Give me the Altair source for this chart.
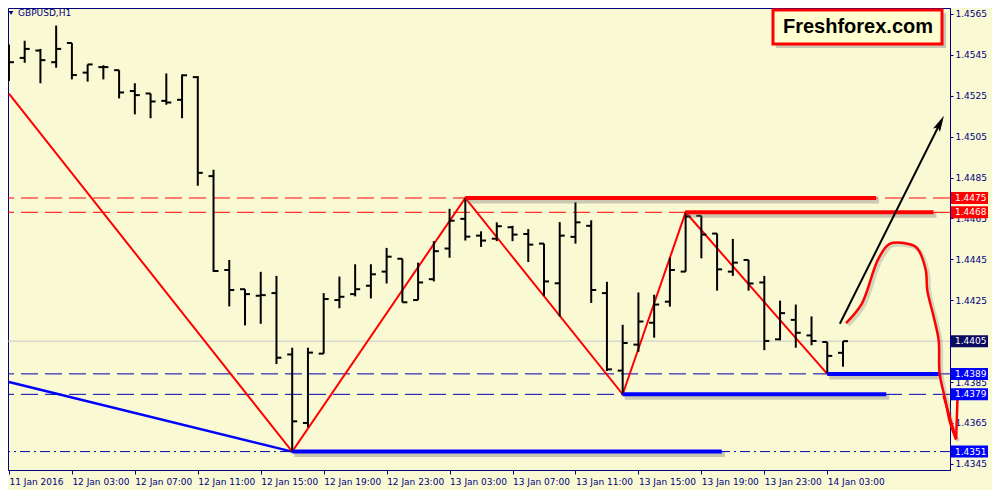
import json
import altair as alt
import pandas as pd

# ---------------- data ----------------
opens = [1.45417, 1.45435, 1.45471, 1.45414, 1.45508, 1.45363, 1.45390, 1.45375, 1.45273, 1.45261,
         1.45225, 1.45230, 1.45341, 1.44857, 1.44398, 1.44304, 1.44272, 1.44285, 1.43985, 1.43650,
         1.43989, 1.44251, 1.44280, 1.44321, 1.44390, 1.44453, 1.44251, 1.44353, 1.44503, 1.44648,
         1.44566, 1.44551, 1.44607, 1.44574, 1.44527, 1.44333, 1.44560, 1.44614, 1.44285, 1.43906,
         1.44033, 1.44140, 1.44243, 1.44390, 1.44663, 1.44576, 1.44390, 1.44447, 1.44337, 1.44059,
         1.44154, 1.44078, 1.44046, 1.43993]
highs = [1.45500, 1.45519, 1.45479, 1.45593, 1.45508, 1.45403, 1.45399, 1.45375, 1.45311, 1.45261,
         1.45359, 1.45354, 1.45346, 1.44888, 1.44447, 1.44304, 1.44389, 1.44369, 1.44018, 1.44018,
         1.44285, 1.44366, 1.44426, 1.44426, 1.44506, 1.44453, 1.44434, 1.44539, 1.44697, 1.44750,
         1.44587, 1.44631, 1.44614, 1.44598, 1.44527, 1.44632, 1.44729, 1.44641, 1.44340, 1.44130,
         1.44288, 1.44277, 1.44458, 1.44680, 1.44663, 1.44576, 1.44550, 1.44447, 1.44369, 1.44248,
         1.44229, 1.44171, 1.44046, 1.44050]
lows = [1.45322, 1.45411, 1.45311, 1.45387, 1.45330, 1.45319, 1.45330, 1.45237, 1.45159, 1.45140,
        1.45206, 1.45140, 1.44810, 1.44389, 1.44220, 1.44127, 1.44135, 1.43938, 1.43510, 1.43629,
        1.43989, 1.44211, 1.44269, 1.44259, 1.44332, 1.44240, 1.44251, 1.44342, 1.44458, 1.44542,
        1.44511, 1.44539, 1.44539, 1.44437, 1.44272, 1.44171, 1.44527, 1.44237, 1.43904, 1.43790,
        1.43998, 1.44067, 1.44219, 1.44390, 1.44455, 1.44297, 1.44369, 1.44297, 1.44006, 1.44054,
        1.44018, 1.44030, 1.43890, 1.43925]
closes = [1.45414, 1.45479, 1.45424, 1.45479, 1.45351, 1.45403, 1.45390, 1.45266, 1.45253, 1.45222,
          1.45217, 1.45350, 1.44873, 1.44393, 1.44300, 1.44280, 1.44275, 1.43969, 1.43658, 1.43994,
          1.44256, 1.44267, 1.44304, 1.44377, 1.44463, 1.44240, 1.44337, 1.44490, 1.44639, 1.44561,
          1.44542, 1.44612, 1.44571, 1.44522, 1.44342, 1.44566, 1.44631, 1.44300, 1.43912, 1.44041,
          1.44146, 1.44229, 1.44398, 1.44659, 1.44571, 1.44401, 1.44434, 1.44332, 1.44051, 1.44187,
          1.44091, 1.44051, 1.43978, 1.44050]

tick_k = [0, 4, 8, 12, 16, 20, 24, 28, 32, 36, 40, 44, 48, 52]
time_labels = ["11 Jan 2016", "12 Jan 03:00", "12 Jan 07:00", "12 Jan 11:00", "12 Jan 15:00",
               "12 Jan 19:00", "12 Jan 23:00", "13 Jan 03:00", "13 Jan 07:00", "13 Jan 11:00",
               "13 Jan 15:00", "13 Jan 19:00", "13 Jan 23:00", "14 Jan 03:00"]
y_ticks = [1.4345, 1.4365, 1.4385, 1.4405, 1.4425, 1.4445, 1.4465, 1.4485, 1.4505, 1.4525,
           1.4545, 1.4565]

zigzag_k = [0, 18, 29, 39, 43, 52]
zigzag_p = [1.4526, 1.4351, 1.4475, 1.4379, 1.4468, 1.4389]

trend_k = [0, 18]
trend_p = [1.4385, 1.4351]

level_p = [1.4475, 1.4468, 1.4389, 1.4379, 1.4351]
level_k1 = [29, 43, 52, 39, 18]
level_k2 = [55.1, 58.75, 59.1, 55.75, 45.3]
level_col = ["#FF0000", "#FF0000", "#0000FF", "#0000FF", "#0000FF"]

red_dash_p = [1.4475, 1.4468]
blue_dash_p = [1.4389, 1.4379]
dashdot_p = [1.4351]
current_p = [1.4405]

tag_p = [1.4475, 1.4468, 1.4405, 1.4389, 1.4379, 1.4351]
tag_col = ["#FF0000", "#FF0000", "#0A0A60", "#0000FF", "#0000FF", "#0000FF"]

arrow_k = [52.8, 59.12]
arrow_p = [1.44135, 1.45108]

curve_k = [53.19, 54.19, 55.23, 55.96, 57.11, 57.69, 58.25, 58.36, 58.77, 59.08, 59.14, 59.5, 59.81, 60.19]
curve_p = [1.44138, 1.44232, 1.44450, 1.44526, 1.44526, 1.44506, 1.44401, 1.44297, 1.44167, 1.44054,
           1.43892, 1.43764, 1.43650, 1.43570]
barb_seg = ["a", "a", "b", "b"]
barb_k = [59.39, 60.19, 60.29, 60.19]
barb_p = [1.43783, 1.43570, 1.43802, 1.43570]

symbol_title = ["GBPUSD,H1"]
brand = ["Freshforex.com"]

# ---------------- style ----------------
W, H = 942, 462
NAVY = "#000080"
BG = "#F9F9D4"
FONT = "DejaVu Sans"

xs = alt.Scale(domain=[-0.06, 59.8], nice=False, zero=False)
ys = alt.Scale(domain=[1.4342, 1.45679], nice=False, zero=False)
label_expr = json.dumps(time_labels) + "[round(datum.value / 4)]"
x_axis = alt.Axis(values=tick_k, labelExpr=label_expr, title=None, grid=False, labelAlign="left",
                  labelPadding=3, labelFont=FONT, labelFontSize=9, labelColor=NAVY, tickColor=NAVY,
                  tickSize=4, domainColor=NAVY, labelFlush=False, labelOverlap=False)
y_axis = alt.Axis(orient="right", values=y_ticks, format=".4f", title=None, grid=False,
                  labelFont=FONT, labelFontSize=9, labelColor=NAVY, tickColor=NAVY, tickSize=3,
                  labelPadding=2, domainColor=NAVY, labelFlush=False, labelOverlap=False)


def X(f="k"):
    return alt.X(f"{f}:Q", scale=xs, axis=x_axis)


def Y(f="p"):
    return alt.Y(f"{f}:Q", scale=ys, axis=y_axis)


bars = pd.DataFrame({"k": list(range(len(opens))), "o": opens, "h": highs, "l": lows, "c": closes})
zz = pd.DataFrame({"k": zigzag_k, "p": zigzag_p})
tr = pd.DataFrame({"k": trend_k, "p": trend_p})
lv = pd.DataFrame({"p": level_p, "k": level_k1, "k2": level_k2, "col": level_col})
rd = pd.DataFrame({"p": red_dash_p})
bd = pd.DataFrame({"p": blue_dash_p})
dd = pd.DataFrame({"p": dashdot_p})
cp = pd.DataFrame({"p": current_p})
tg = pd.DataFrame({"p": tag_p, "col": tag_col})
ar = pd.DataFrame({"k": arrow_k, "p": arrow_p})
ah = pd.DataFrame({"k": arrow_k[-1:], "p": arrow_p[-1:]})
cv = pd.DataFrame({"k": curve_k, "p": curve_p, "i": list(range(len(curve_k)))})
bb = pd.DataFrame({"k": barb_k, "p": barb_p, "seg": barb_seg, "i": list(range(len(barb_k)))})
tt = pd.DataFrame({"t": symbol_title})
br = pd.DataFrame({"t": brand})

layers = []
# current price line
layers.append(alt.Chart(cp).mark_rule(color="#C8C8C8", strokeWidth=1).encode(y=Y()))
# dashed levels
layers.append(alt.Chart(rd).mark_rule(color="#FF0000", strokeWidth=1, strokeDash=[17, 7]).encode(y=Y()))
layers.append(alt.Chart(bd).mark_rule(color="#0000B0", strokeWidth=1, strokeDash=[17, 7]).encode(y=Y()))
layers.append(alt.Chart(dd).mark_rule(color="#0000B0", strokeWidth=1, strokeDash=[10, 4, 2, 4]).encode(y=Y()))
# trend lines
layers.append(alt.Chart(tr).mark_line(color="#0000FF", strokeWidth=2.5).encode(x=X(), y=Y()))
layers.append(alt.Chart(zz).mark_line(color="#FF0000", strokeWidth=2).encode(x=X(), y=Y()))
# OHLC bars
layers.append(alt.Chart(bars).mark_rule(color="black", strokeWidth=2).encode(
    x=X(), y=Y("l"), y2="h:Q"))
layers.append(alt.Chart(bars).mark_rule(color="black", strokeWidth=2, xOffset=-5).encode(
    x=X(), x2="k:Q", y=Y("o")))
layers.append(alt.Chart(bars).mark_rule(color="black", strokeWidth=2, x2Offset=5).encode(
    x=X(), x2="k:Q", y=Y("c")))
# thick levels with shadow
layers.append(alt.Chart(lv).mark_rule(color="#707070", opacity=0.35, strokeWidth=5, yOffset=3,
                                      xOffset=2, x2Offset=3).encode(x=X(), x2="k2:Q", y=Y()))
layers.append(alt.Chart(lv).mark_rule(strokeWidth=4).encode(
    x=X(), x2="k2:Q", y=Y(), color=alt.Color("col:N", scale=None)))
# black arrow
layers.append(alt.Chart(ar).mark_line(color="black", strokeWidth=2).encode(x=X(), y=Y()))
layers.append(alt.Chart(ah).mark_point(shape="M0,-1L0.38,0.6L0,0.3L-0.38,0.6Z", filled=True,
                                       color="black", opacity=1, size=420, angle=27).encode(x=X(), y=Y()))
# red hand-drawn curve
layers.append(alt.Chart(cv).mark_line(color="#808080", opacity=0.3, strokeWidth=4, interpolate="catmull-rom",
                                      xOffset=2, yOffset=2).encode(x=X(), y=Y(), order="i:Q"))
layers.append(alt.Chart(cv).mark_line(color="#FF0000", strokeWidth=2.5, interpolate="catmull-rom").encode(
    x=X(), y=Y(), order="i:Q"))
layers.append(alt.Chart(bb).mark_line(color="#FF0000", strokeWidth=2.5).encode(
    x=X(), y=Y(), detail="seg:N", order="i:Q"))
# price tags
layers.append(alt.Chart(tg).mark_rule(strokeWidth=12).encode(
    x=alt.value(W + 1), x2=alt.value(W + 38), y=Y(), color=alt.Color("col:N", scale=None)))
layers.append(alt.Chart(tg).mark_text(align="left", baseline="middle", font=FONT, fontSize=9,
                                      color="white").encode(
    x=alt.value(W + 5), y=Y(), text=alt.Text("p:Q", format=".4f")))
# symbol title
layers.append(alt.Chart(tt).mark_point(shape="triangle-down", filled=True, color=NAVY, opacity=1,
                                       size=22).encode(x=alt.value(3), y=alt.value(5)))
layers.append(alt.Chart(tt).mark_text(align="left", baseline="top", font=FONT, fontSize=9,
                                      color=NAVY).encode(x=alt.value(10), y=alt.value(1), text="t:N"))
# brand box
layers.append(alt.Chart(br).mark_rect(color="#808080", opacity=0.4).encode(
    x=alt.value(W - 174), x2=alt.value(W - 4), y=alt.value(5), y2=alt.value(40)))
layers.append(alt.Chart(br).mark_rect(fill="#FFFFD0", stroke="#FF0000", strokeWidth=3).encode(
    x=alt.value(W - 177), x2=alt.value(W - 8), y=alt.value(2), y2=alt.value(36)))
layers.append(alt.Chart(br).mark_text(align="center", baseline="middle", font="Liberation Sans",
                                      fontSize=20, fontWeight="bold", color="black").encode(
    x=alt.value(W - 92), y=alt.value(19), text="t:N"))

chart = alt.layer(*layers).properties(
    width=W, height=H, background=BG,
    autosize=alt.AutoSizeParams(type="none"),
    padding={"left": 0, "top": 0, "right": 42, "bottom": 20},
).configure_view(stroke=NAVY, strokeWidth=1)

chart.save("out.html", embed_options={"renderer": "svg", "actions": False})
